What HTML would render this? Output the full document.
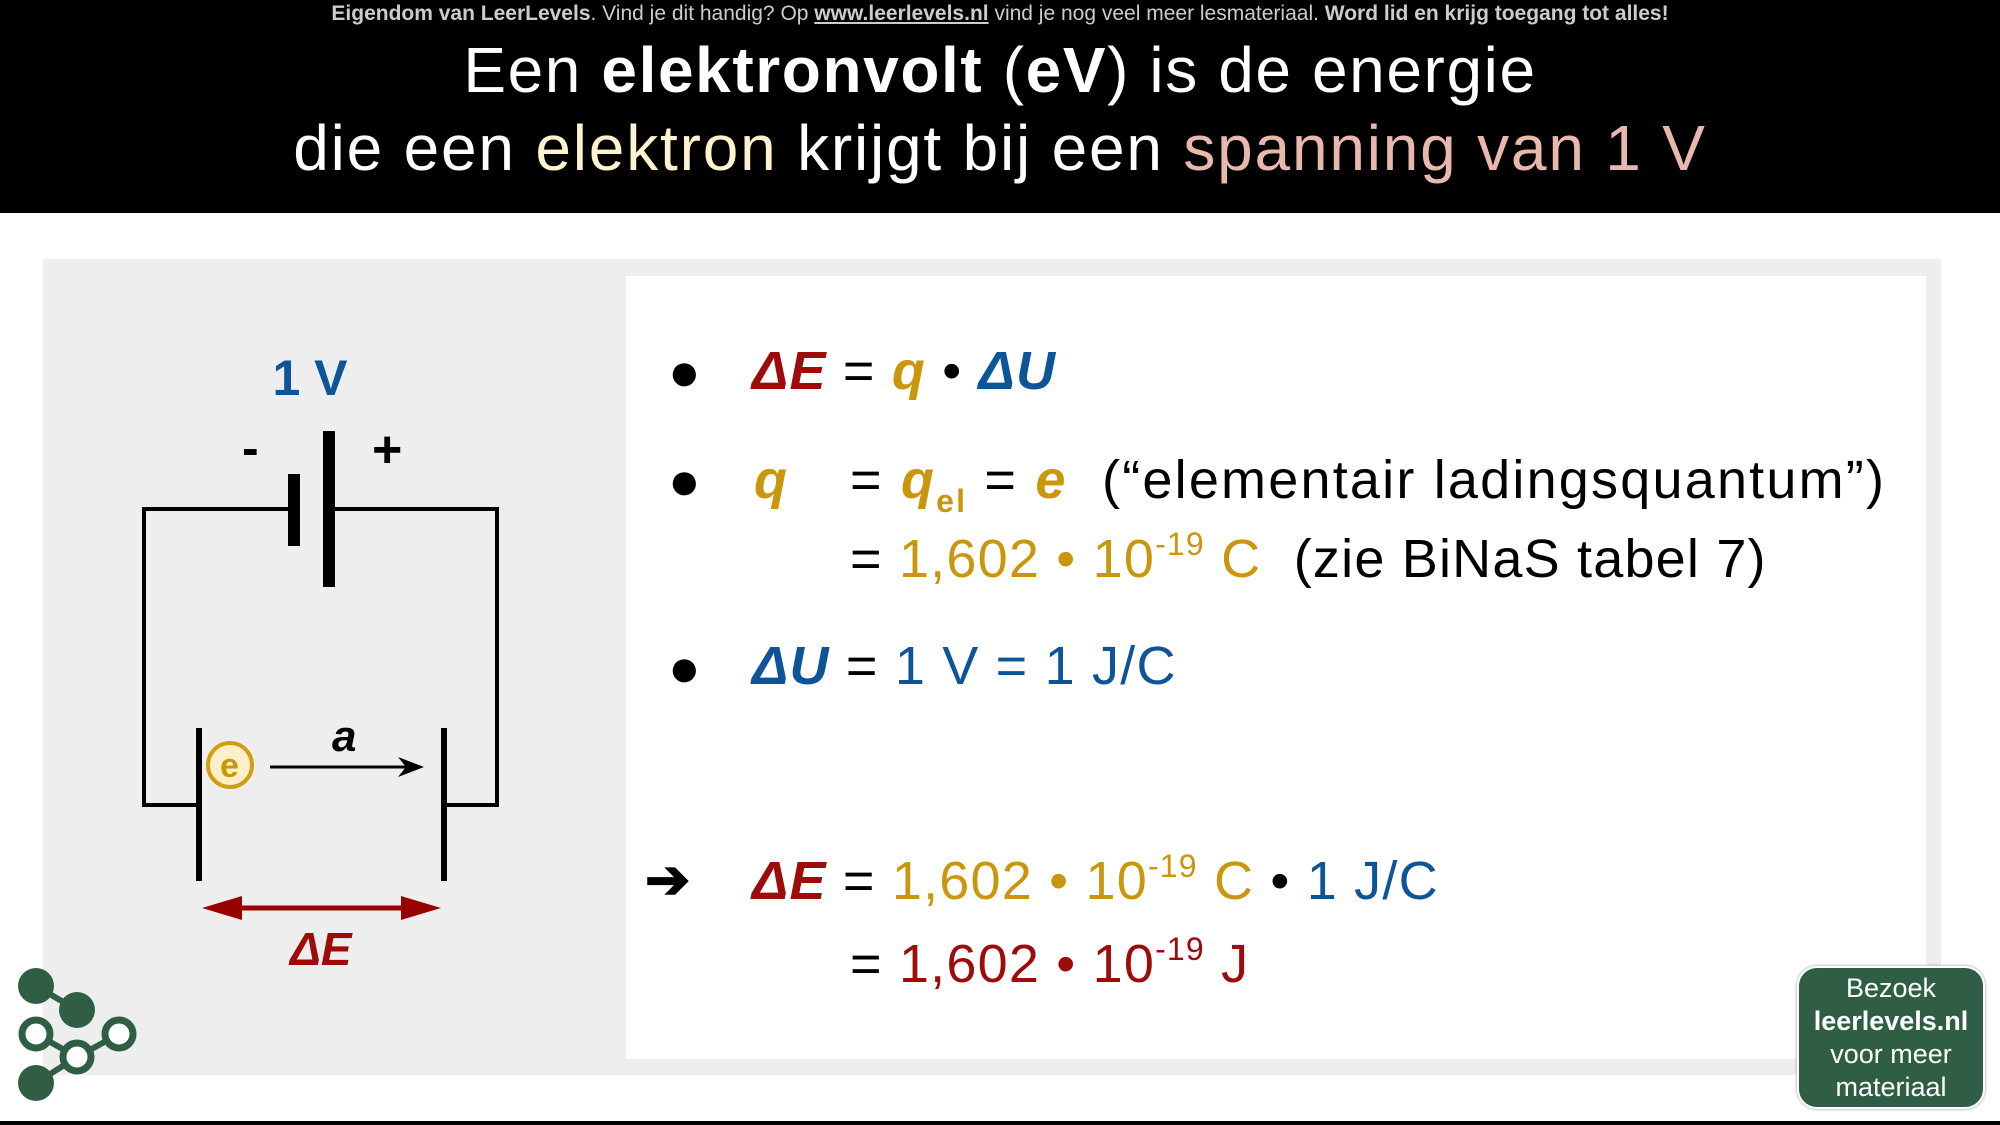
<!DOCTYPE html>
<html><head><meta charset="utf-8"><style>
body{margin:0;width:2000px;height:1125px;position:relative;overflow:hidden;background:#fff;font-family:"Liberation Sans",sans-serif}
.a{position:absolute;white-space:nowrap}
.hdr{position:absolute;left:0;top:0;width:2000px;height:213px;background:#000}
.t{left:0;width:2000px;text-align:center;color:#fff}
.r{color:#9e0b0b}.g{color:#c9960c}.b{color:#0d5498}
.m{font-size:54px;line-height:60px;letter-spacing:1.2px}
sup{font-size:32px;vertical-align:22px;line-height:0}
sub{font-size:32px;vertical-align:-14px;line-height:0;font-style:normal}
.bi{font-weight:bold;font-style:italic}
</style></head><body>
<div class="hdr"></div>
<div class="a t" style="top:1px;font-size:21px;line-height:26px;color:#ccc"><b>Eigendom van LeerLevels</b>. Vind je dit handig? Op <b><u>www.leerlevels.nl</u></b> vind je nog veel meer lesmateriaal. <b>Word lid en krijg toegang tot alles!</b></div>
<div class="a t" style="top:34px;font-size:64px;line-height:72px;letter-spacing:1.6px">Een <b>elektronvolt</b> (<b>eV</b>) is de energie</div>
<div class="a t" style="top:112px;font-size:64px;line-height:72px;letter-spacing:1.8px">die een <span style="color:#fdf3cf">elektron</span> krijgt bij een <span style="color:#e8b8ad">spanning van 1 V</span></div>

<div class="a" style="left:43px;top:259px;width:1898px;height:816px;background:#eeeeee"></div>
<div class="a" style="left:626px;top:276px;width:1300px;height:783px;background:#fff"></div>
<div class="a" style="left:0;top:1121px;width:2000px;height:4px;background:#000"></div>

<svg class="a" style="left:0;top:0" width="2000" height="1125">
<g stroke="#000" stroke-width="4" fill="none">
<polyline points="290,509 144,509 144,805 198,805"/>
<polyline points="333,509 497,509 497,805 443,805"/>
</g>
<rect x="288" y="474" width="12" height="72" fill="#000"/>
<rect x="323" y="431" width="12" height="156" fill="#000"/>
<rect x="196" y="728" width="6" height="153" fill="#000"/>
<rect x="441" y="728" width="6" height="153" fill="#000"/>
<circle cx="230" cy="765" r="22" fill="#fdf0c8" stroke="#d49d10" stroke-width="4"/>
<line x1="270" y1="767" x2="418" y2="767" stroke="#000" stroke-width="3"/>
<path d="M424,767 L398,757 L406,767 L398,777 Z" fill="#000"/>
<line x1="230" y1="908" x2="415" y2="908" stroke="#990000" stroke-width="5"/>
<path d="M202,908 L242,896 L242,920 Z M441,908 L401,896 L401,920 Z" fill="#990000"/>
<g stroke="#2f5e44" stroke-width="6"><line x1="36" y1="986" x2="77" y2="1010"/><line x1="36" y1="1034" x2="77" y2="1057"/><line x1="77" y1="1057" x2="119" y2="1034"/><line x1="36" y1="1083" x2="77" y2="1057"/></g>
<g fill="#2f5e44"><circle cx="36" cy="986" r="18"/><circle cx="77" cy="1010" r="18"/><circle cx="36" cy="1083" r="18"/></g>
<g fill="#fff" stroke="#2f5e44" stroke-width="7"><circle cx="36" cy="1034" r="14"/><circle cx="77" cy="1057" r="14"/><circle cx="119" cy="1034" r="14"/></g>
</svg>
<div class="a b" style="left:250px;top:350px;width:120px;text-align:center;font-size:50px;font-weight:bold;line-height:56px">1 V</div>
<div class="a" style="left:242px;top:420px;font-size:50px;font-weight:bold;line-height:56px">-</div>
<div class="a" style="left:372px;top:422px;font-size:52px;font-weight:bold;line-height:56px">+</div>
<div class="a" style="left:220px;top:748px;font-size:34px;font-weight:bold;color:#c9960c;line-height:36px">e</div>
<div class="a bi" style="left:332px;top:712px;font-size:44px;line-height:50px">a</div>
<div class="a r bi" style="left:290px;top:922px;font-size:46px;line-height:54px">ΔE</div>

<div class="a m" style="left:668px;top:342px">●</div>
<div class="a m" style="left:668px;top:451px">●</div>
<div class="a m" style="left:668px;top:638px">●</div>
<div class="a m" style="left:645px;top:850px;font-weight:bold">➔</div>

<div class="a m" style="left:752px;top:341px"><span class="r bi">ΔE</span> = <span class="g bi">q</span> • <span class="b bi">ΔU</span></div>
<div class="a m" style="left:754px;top:450px"><span class="g bi">q</span></div>
<div class="a m" style="left:850px;top:450px;letter-spacing:2.2px">= <span class="g bi">q<sub>el</sub></span> = <span class="g bi">e</span> &nbsp;(“elementair ladingsquantum”)</div>
<div class="a m" style="left:850px;top:529px">= <span class="g">1,602 • 10<sup>-19</sup> C</span> &nbsp;(zie BiNaS tabel 7)</div>
<div class="a m" style="left:752px;top:636px"><span class="b bi">ΔU</span> = <span class="b">1 V = 1 J/C</span></div>
<div class="a m" style="left:752px;top:851px"><span class="r bi">ΔE</span> = <span class="g">1,602 • 10<sup>-19</sup> C</span> • <span class="b">1 J/C</span></div>
<div class="a m" style="left:850px;top:934px">= <span class="r">1,602 • 10<sup>-19</sup> J</span></div>

<div class="a" style="left:1797px;top:966px;width:188px;height:143px;background:#2f5e44;border:2px solid #fff;border-radius:20px;box-shadow:0 0 3px #999;color:#fff;text-align:center;font-size:27px;line-height:33px;padding-top:4px;box-sizing:border-box">Bezoek<br><b>leerlevels.nl</b><br>voor meer<br>materiaal</div>
</body></html>
